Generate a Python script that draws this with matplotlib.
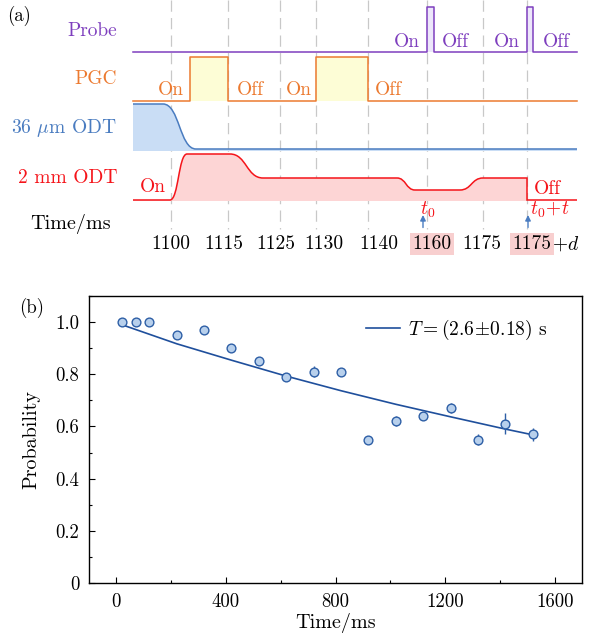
import matplotlib
matplotlib.use("Agg")
import matplotlib.pyplot as plt
from matplotlib.path import Path
import matplotlib.patches as mpatches
from matplotlib.ticker import MultipleLocator

plt.rcParams['font.family'] = ['cmr10', 'DejaVu Serif']
plt.rcParams['mathtext.fontset'] = 'cm'
plt.rcParams['axes.formatter.use_mathtext'] = True

# ---------------- (a) timing sequence (schematic units) ----------------
event_x = [171, 228, 280, 316, 368, 427, 483, 527]
tick_text = ["1100", "1115", "1125", "1130", "1140", "1160", "1175", "1175"]
tick_text_x = [171, 224, 276, 324, 379, 432, 482, 532]
tick_marked = [False, False, False, False, False, True, False, True]

probe_x = [133, 427, 427, 434, 434, 527, 527, 533, 533, 577]
probe_y = [52, 52, 7, 7, 52, 52, 7, 7, 52, 52]
probe_pulses = [(427, 434), (527, 533)]

pgc_x = [133, 190, 190, 228, 228, 316, 316, 368, 368, 577]
pgc_y = [101, 101, 57, 57, 101, 101, 57, 57, 101, 101]
pgc_pulses = [(190, 228), (316, 368)]

odt36_x = [133, 163, 196, 577]
odt36_y = [104, 104, 149, 149]

odt2_x = [133, 170, 187, 230, 263, 397, 415, 460, 483, 527, 527, 577]
odt2_y = [200, 200, 154, 154, 178, 178, 190, 190, 178, 178, 200, 200]

c_probe = "#7E3FBE"
c_pgc = "#EC7A30"
c_odt36 = "#4A7CC0"
c_odt2 = "#F5141A"

# ---------------- (b) lifetime data ----------------
t_ms = [20, 70, 120, 220, 320, 420, 520, 620, 720, 820, 920, 1020, 1120, 1220, 1320, 1420, 1520]
prob = [1.00, 1.00, 1.00, 0.95, 0.97, 0.90, 0.85, 0.79, 0.81, 0.81, 0.55, 0.62, 0.64, 0.67, 0.55, 0.61, 0.57]
prob_err = [0.005, 0.005, 0.005, 0.01, 0.015, 0.01, 0.01, 0.015, 0.02, 0.01, 0.015, 0.02, 0.015, 0.02, 0.02, 0.04, 0.025]
fit_t = [20, 220, 420, 620, 820, 1020, 1220, 1420, 1520]
fit_p = [0.99, 0.917, 0.854, 0.793, 0.737, 0.685, 0.637, 0.590, 0.568]


def smooth_path(xs, ys, close_to=None):
    verts = [(xs[0], ys[0])]
    codes = [Path.MOVETO]
    for i in range(1, len(xs)):
        x0, y0, x1, y1 = xs[i - 1], ys[i - 1], xs[i], ys[i]
        if y0 == y1 or x0 == x1:
            verts.append((x1, y1))
            codes.append(Path.LINETO)
        else:
            dx = x1 - x0
            verts += [(x0 + 0.5 * dx, y0), (x1 - 0.5 * dx, y1), (x1, y1)]
            codes += [Path.CURVE4] * 3
    if close_to is not None:
        verts += [(xs[-1], close_to), (xs[0], close_to), (xs[0], ys[0])]
        codes += [Path.LINETO, Path.LINETO, Path.CLOSEPOLY]
    return Path(verts, codes)


fig = plt.figure(figsize=(5.92, 6.41), dpi=100)

H = 262
ax = fig.add_axes([0, 1 - H / 641, 1, H / 641])
ax.set_xlim(0, 592)
ax.set_ylim(H, 0)
ax.axis("off")

for ex in event_x:
    ax.plot([ex, ex], [0, 229], color="#C8C8C8", lw=0.9, ls=(0, (9, 5)), zorder=0)

fs = 14
# probe
for a, b in probe_pulses:
    ax.add_patch(mpatches.Rectangle((a, 7), b - a, 45, fc="#ECE6FA", ec="none", zorder=1))
ax.plot(probe_x, probe_y, color=c_probe, lw=1.1, zorder=3)
ax.text(117, 31, "Probe", color=c_probe, fontsize=fs, ha="right", va="center")
for x, s in zip([407, 455, 507, 556], ["On", "Off", "On", "Off"]):
    ax.text(x, 42, s, color=c_probe, fontsize=fs, ha="center", va="center")

# PGC
for a, b in pgc_pulses:
    ax.add_patch(mpatches.Rectangle((a, 57), b - a, 44, fc="#FDFDD6", ec="none", zorder=1))
ax.plot(pgc_x, pgc_y, color=c_pgc, lw=1.1, zorder=3)
ax.text(117, 79, "PGC", color=c_pgc, fontsize=fs, ha="right", va="center")
for x, s in zip([171, 250, 299, 388], ["On", "Off", "On", "Off"]):
    ax.text(x, 90, s, color=c_pgc, fontsize=fs, ha="center", va="center")

# 36 um ODT
ax.add_patch(mpatches.PathPatch(smooth_path(odt36_x, odt36_y, close_to=151),
                                fc="#C9DDF5", ec="none", zorder=1))
ax.add_patch(mpatches.PathPatch(smooth_path(odt36_x, odt36_y), fc="none",
                                ec=c_odt36, lw=1.1, zorder=3))
ax.text(117, 128, r"36 $\mu$m ODT", color=c_odt36, fontsize=fs, ha="right", va="center")

# 2 mm ODT
ax.add_patch(mpatches.PathPatch(smooth_path(odt2_x[:10], odt2_y[:10], close_to=201),
                                fc="#FDD5D5", ec="none", zorder=1))
ax.add_patch(mpatches.PathPatch(smooth_path(odt2_x, odt2_y), fc="none",
                                ec=c_odt2, lw=1.1, zorder=3))
ax.text(117, 178, "2 mm ODT", color=c_odt2, fontsize=fs, ha="right", va="center")
ax.text(153, 187, "On", color=c_odt2, fontsize=fs, ha="center", va="center")
ax.text(547, 189, "Off", color=c_odt2, fontsize=fs, ha="center", va="center")

# time axis
ax.text(111, 224, "Time/ms", fontsize=14.5, ha="right", va="center")
ax.annotate("", xy=(593, 227), xytext=(132, 227),
            arrowprops=dict(arrowstyle="->", color="black", lw=1.0, shrinkA=0, shrinkB=0))
for xa in [423, 528]:
    ax.annotate("", xy=(xa, 215), xytext=(xa, 227.5),
                arrowprops=dict(arrowstyle="-|>", color=c_odt36, lw=1.0,
                                mutation_scale=8, shrinkA=0, shrinkB=0))
ax.text(428, 210, r"$t_0$", color=c_odt2, fontsize=fs, ha="center", va="center")
ax.text(550, 210, r"$t_0\!+\!t$", color=c_odt2, fontsize=fs, ha="center", va="center")

for x, s, m in zip(tick_text_x, tick_text, tick_marked):
    kw = {}
    if m:
        kw["bbox"] = dict(boxstyle="square,pad=0.12", fc="#F8CFCF", ec="none")
    ax.text(x, 244, s, fontsize=14, ha="center", va="center", **kw)
ax.text(552, 244, r"$+d$", fontsize=14, ha="left", va="center")

ax.text(19, 16, "(a)", fontsize=13.5, ha="center", va="center")

# ---------------- (b) ----------------
bx = fig.add_axes([89 / 592, 58 / 641, 493 / 592, 287 / 641])
bx.plot(fit_t, fit_p, color="#1F4F9C", lw=1.2, label=r"$T = (2.6\!\pm\!0.18)$ s", zorder=2)
bx.errorbar(t_ms, prob, yerr=prob_err, fmt="o", ms=6.3, mfc="#B8D0EC", mec="#2E5FA6",
            mew=1.0, ecolor="#2E5FA6", elinewidth=1.0, capsize=0, zorder=3)
bx.set_xlim(-100, 1700)
bx.set_ylim(0, 1.1)
bx.set_xticks([0, 400, 800, 1200, 1600])
bx.set_xticklabels(["0", "400", "800", "1200", "1600"])
bx.set_yticks([0, 0.2, 0.4, 0.6, 0.8, 1.0])
bx.set_yticklabels(["0", "0.2", "0.4", "0.6", "0.8", "1.0"])
bx.xaxis.set_minor_locator(MultipleLocator(200))
bx.yaxis.set_minor_locator(MultipleLocator(0.1))
bx.tick_params(which="both", direction="in", labelsize=13.5, width=0.8)
bx.tick_params(which="major", length=4.5, pad=7)
bx.tick_params(which="minor", length=2.5)
for sp in bx.spines.values():
    sp.set_linewidth(1.0)
bx.set_xlabel("Time/ms", fontsize=14.5, labelpad=2)
bx.set_ylabel("Probability", fontsize=14.5, labelpad=11)
bx.legend(loc="upper right", bbox_to_anchor=(0.931, 0.925), frameon=False,
          fontsize=14, handlelength=1.75, handletextpad=0.45,
          borderaxespad=0, borderpad=0)
fig.text(32 / 592, 1 - 308 / 641, "(b)", fontsize=13.5, ha="center", va="center")

fig.savefig("out.png", dpi=100)
